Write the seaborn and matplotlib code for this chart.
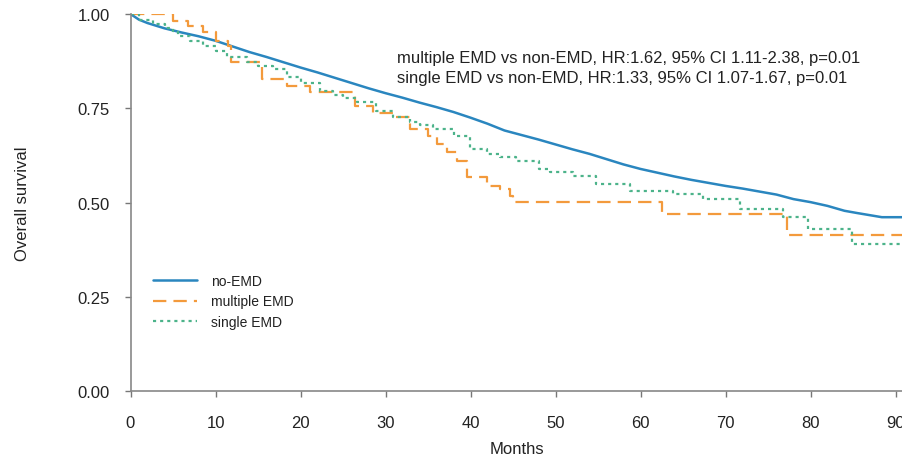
import matplotlib
matplotlib.use("Agg")
import matplotlib.pyplot as plt
import seaborn as sns
import pandas as pd

# ---- data ----
no_emd_months = [0, 1, 2, 4, 6, 8, 10, 12, 14, 16, 18, 20, 22, 24, 26, 28, 30, 32, 34, 36,
                 38, 40, 42, 44, 46, 48, 50, 52, 54, 56, 58, 60, 62, 64, 66, 68, 70, 72, 74,
                 76, 78, 80, 82, 84, 85.5, 88.4, 91]
no_emd_surv = [1.0, 0.985, 0.976, 0.962, 0.951, 0.941, 0.929, 0.914, 0.899, 0.886, 0.872,
               0.858, 0.845, 0.831, 0.817, 0.803, 0.79, 0.778, 0.765, 0.753, 0.74, 0.725,
               0.709, 0.691, 0.679, 0.667, 0.654, 0.641, 0.629, 0.615, 0.601, 0.589, 0.579,
               0.569, 0.56, 0.552, 0.544, 0.537, 0.529, 0.521, 0.509, 0.501, 0.491, 0.478,
               0.472, 0.461, 0.461]

multi_months = [0, 5.0, 6.8, 8.5, 10.1, 11.5, 11.8, 15.5, 18.4, 21.1, 26.4, 28.5, 31.1, 32.9,
                35.0, 36.0, 37.2, 38.4, 39.6, 41.9, 43.5, 44.6, 45.0, 62.5, 77.2, 91]
multi_surv = [1.0, 0.982, 0.968, 0.952, 0.929, 0.915, 0.872, 0.828, 0.809, 0.792, 0.755, 0.738,
              0.727, 0.695, 0.677, 0.655, 0.634, 0.61, 0.568, 0.544, 0.536, 0.517, 0.502,
              0.47, 0.414, 0.414]

single_months = [0, 1.0, 2.6, 4.0, 5.0, 5.6, 7.0, 8.5, 10.0, 11.3, 13.7, 15.0, 16.8, 18.4,
                 20.0, 22.3, 23.8, 25.0, 26.6, 28.9, 30.9, 32.9, 34.0, 35.6, 38.0, 39.9,
                 41.9, 43.5, 45.4, 48.1, 49.3, 52.0, 54.8, 58.8, 63.8, 67.4, 71.7, 76.8,
                 79.7, 84.9, 91]
single_surv = [1.0, 0.985, 0.973, 0.962, 0.955, 0.941, 0.929, 0.916, 0.901, 0.885, 0.872,
               0.863, 0.853, 0.832, 0.817, 0.797, 0.785, 0.778, 0.766, 0.743, 0.727, 0.713,
               0.706, 0.695, 0.677, 0.642, 0.629, 0.621, 0.61, 0.589, 0.58, 0.57, 0.549,
               0.53, 0.522, 0.509, 0.483, 0.462, 0.43, 0.39, 0.39]

labels = ["no-EMD", "multiple EMD", "single EMD"]
annot_lines = ["multiple EMD vs non-EMD, HR:1.62, 95% CI 1.11-2.38, p=0.01",
               "single EMD vs non-EMD, HR:1.33, 95% CI 1.07-1.67, p=0.01"]
xticks = [0, 10, 20, 30, 40, 50, 60, 70, 80, 90]
yticks = [0.0, 0.25, 0.5, 0.75, 1.0]

sns.set_theme(style="white")
plt.rcParams['font.family'] = ['Liberation Sans', 'DejaVu Sans']

W, H = 903, 456
fig = plt.figure(figsize=(W / 100, H / 100), dpi=100)
x0, xr = 130.5, 904.0
yb, yt = 392, 15
ax = fig.add_axes([x0 / W, (H - yb) / H, (xr - x0) / W, (yb - yt) / H])

df_a = pd.DataFrame({"Months": no_emd_months, "S": no_emd_surv})
df_b = pd.DataFrame({"Months": multi_months, "S": multi_surv})
df_c = pd.DataFrame({"Months": single_months, "S": single_surv})

blue, orange, green = "#2a86bf", "#f39a3c", "#4cb38a"
sns.lineplot(data=df_a, x="Months", y="S", ax=ax, color=blue, lw=1.8,
             estimator=None, sort=False, label=labels[0])
sns.lineplot(data=df_b, x="Months", y="S", ax=ax, color=orange, lw=1.6,
             estimator=None, sort=False, label=labels[1], drawstyle="steps-post",
             dashes=False, linestyle=(0, (6, 3.2)))
sns.lineplot(data=df_c, x="Months", y="S", ax=ax, color=green, lw=1.6,
             estimator=None, sort=False, label=labels[2], drawstyle="steps-post",
             dashes=False, linestyle=(0, (1.4, 1.8)))

ax.set_xlim(0, 91)
ax.set_ylim(0, 1.0)
ax.set_xticks(xticks)
ax.set_xticklabels([str(t) for t in xticks], fontsize=12, color="#222222")
ax.set_yticks(yticks)
ax.set_yticklabels([f"{t:.2f}" for t in yticks], fontsize=12, color="#222222")
ax.tick_params(axis="both", direction="out", length=4, width=1, color="#777777",
               bottom=True, left=True)
ax.tick_params(axis="x", pad=13)
ax.tick_params(axis="y", pad=11)
for s in ["top", "right"]:
    ax.spines[s].set_visible(False)
for s in ["left", "bottom"]:
    ax.spines[s].set_color("#888888")
    ax.spines[s].set_linewidth(1.2)
    ax.spines[s].set_clip_on(False)

ax.set_xlabel("Months", fontsize=12, color="#222222", labelpad=8)
ax.set_ylabel("Overall survival", fontsize=12, color="#222222", labelpad=34)

for i, t in enumerate(annot_lines):
    ax.text(31.3, 0.884 - i * 0.053, t, fontsize=12, color="#222222", va="center",
            ha="left")

leg = ax.legend(loc="upper left", bbox_to_anchor=(0.029, 0.31), frameon=False,
                borderpad=0, borderaxespad=0,
                fontsize=10, handlelength=3.2, handletextpad=1.0, labelspacing=0.45)
for t in leg.get_texts():
    t.set_color("#222222")

fig.savefig("out.png", dpi=100)
